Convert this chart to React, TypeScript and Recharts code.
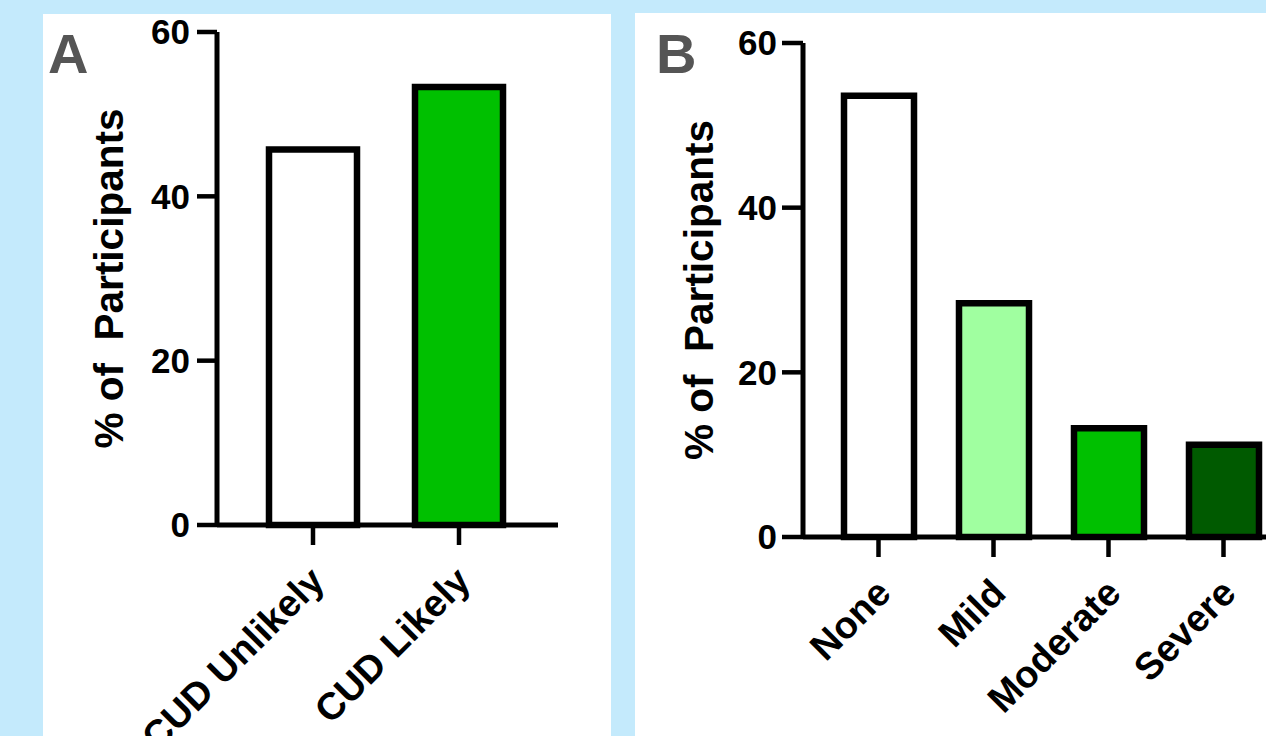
import React from "react";
import { BarChart, Bar, XAxis, YAxis, Cell, Label } from "recharts";

const categoriesA = ["CUD Unlikely", "CUD Likely"];
const valuesA = [45.7, 53.3];
const colorsA = ["#ffffff", "#00c000"];

const categoriesB = ["None", "Mild", "Moderate", "Severe"];
const valuesB = [53.6, 28.4, 13.2, 11.2];
const colorsB = ["#ffffff", "#a0ffa0", "#00c000", "#005a00"];

const yTicks = [0, 20, 40, 60];
const yTitle = "% of  Participants";

const dataA = categoriesA.map((name, i) => ({ name, value: valuesA[i] }));
const dataB = categoriesB.map((name, i) => ({ name, value: valuesB[i] }));

const FONT = "'Liberation Sans', Arial, Helvetica, sans-serif";
const BG = "#c4eafc";

const makeTick = (dx: number, dy: number) => (props: any) => {
  const { x, y, payload } = props;
  return (
    <text
      transform={`translate(${x + dx}, ${y + dy}) rotate(-45)`}
      textAnchor="end"
      dy="0.35em"
      fontFamily={FONT}
      fontWeight="bold"
      fontSize={38}
      fill="#000"
    >
      {payload.value}
    </text>
  );
};

const makeTitle = (baseX: number) => (props: any) => {
  const vb = props.viewBox || { y: 0, height: 0 };
  const cy = vb.y + vb.height / 2;
  return (
    <text
      transform={`translate(${baseX}, ${cy}) rotate(-90)`}
      textAnchor="middle"
      fontFamily={FONT}
      fontWeight="bold"
      fontSize={40.5}
      fill="#000"
      style={{ whiteSpace: "pre" }}
    >
      {yTitle}
    </text>
  );
};

const axisLine = { stroke: "#000", strokeWidth: 5 };
const tickLine = { stroke: "#000", strokeWidth: 4.5 };
const yTickStyle = { fontFamily: FONT, fontWeight: "bold", fontSize: 35, fill: "#000" };

export default function App() {
  return (
    <div
      style={{
        position: "absolute",
        left: 0,
        top: 0,
        width: 1266,
        height: 736,
        overflow: "hidden",
        background: BG,
      }}
    >
      <div style={{ position: "absolute", left: 43, top: 14, width: 568, height: 722, background: "#fff" }} />
      <div style={{ position: "absolute", left: 635, top: 13, width: 631, height: 723, background: "#fff" }} />

      <div style={{ position: "absolute", left: 0, top: 0 }}>
        <BarChart
          width={600}
          height={736}
          data={dataA}
          margin={{ top: 32, right: 42, bottom: 0, left: 0 }}
          barCategoryGap={0}
        >
          <XAxis
            dataKey="name"
            axisLine={axisLine}
            tickLine={tickLine}
            tickSize={20}
            tickMargin={0}
            padding={{ left: 23, right: 26 }}
            interval={0}
            height={211}
            tick={makeTick(4, 29)}
          />
          <YAxis
            domain={[0, 60]}
            ticks={yTicks}
            width={217}
            axisLine={axisLine}
            tickLine={tickLine}
            tickSize={20}
            tickMargin={7}
            tick={yTickStyle}
            interval={0}
          >
            <Label content={makeTitle(123)} />
          </YAxis>
          <Bar dataKey="value" barSize={88} stroke="#000" strokeWidth={6.5} isAnimationActive={false}>
            {dataA.map((d, i) => (
              <Cell key={d.name} fill={colorsA[i]} />
            ))}
          </Bar>
        </BarChart>
      </div>

      <div style={{ position: "absolute", left: 0, top: 0 }}>
        <BarChart
          width={1310}
          height={736}
          data={dataB}
          margin={{ top: 43, right: 12, bottom: 0, left: 0 }}
          barCategoryGap={0}
        >
          <XAxis
            dataKey="name"
            axisLine={axisLine}
            tickLine={tickLine}
            tickSize={20}
            tickMargin={0}
            padding={{ left: 18, right: 17 }}
            interval={0}
            height={199}
            tick={makeTick(5, 29)}
          />
          <YAxis
            domain={[0, 60]}
            ticks={yTicks}
            width={803}
            axisLine={axisLine}
            tickLine={tickLine}
            tickSize={21}
            tickMargin={5}
            tick={yTickStyle}
            interval={0}
          >
            <Label content={makeTitle(713)} />
          </YAxis>
          <Bar dataKey="value" barSize={70} stroke="#000" strokeWidth={6.5} isAnimationActive={false}>
            {dataB.map((d, i) => (
              <Cell key={d.name} fill={colorsB[i]} />
            ))}
          </Bar>
        </BarChart>
      </div>

      <svg width={1266} height={736} style={{ position: "absolute", left: 0, top: 0, pointerEvents: "none" }}>
        <text x={48} y={73} fontFamily={FONT} fontWeight="bold" fontSize={56} fill="#555555">
          A
        </text>
        <text x={656} y={73} fontFamily={FONT} fontWeight="bold" fontSize={56} fill="#555555">
          B
        </text>
      </svg>
    </div>
  );
}
